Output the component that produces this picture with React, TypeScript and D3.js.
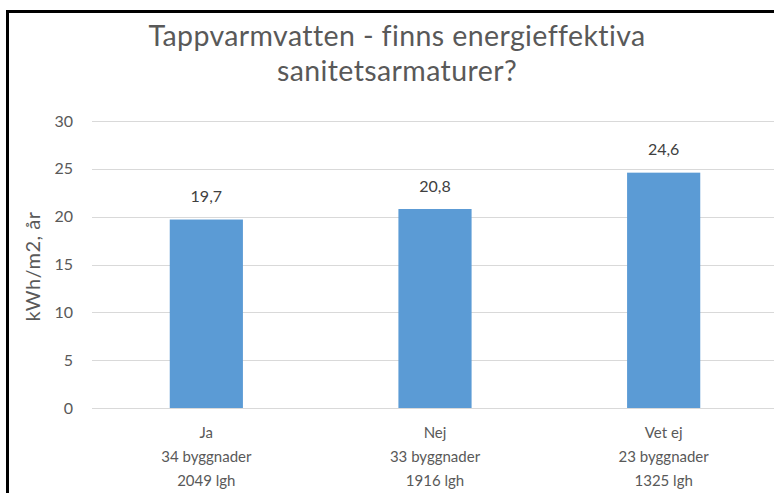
import React from "react";
import * as d3 from "d3";

const categories = ["Ja", "Nej", "Vet ej"];
const subLabels = [
  ["34 byggnader", "2049 lgh"],
  ["33 byggnader", "1916 lgh"],
  ["23 byggnader", "1325 lgh"],
];
const values = [19.7, 20.8, 24.6];
const yTicks = [0, 5, 10, 15, 20, 25, 30];
const titleLines = ["Tappvarmvatten - finns energieffektiva", "sanitetsarmaturer?"];
const yLabel = "kWh/m2, år";

const W = 774;
const H = 493;
const FONT = "Lato, 'Open Sans', sans-serif";

export default function App() {
  const x = d3
    .scaleBand<string>()
    .domain(categories)
    .range([92, 778])
    .paddingInner(0.68)
    .paddingOuter(0.34);
  const y = d3.scaleLinear().domain([0, 30]).range([408, 121]);
  const fmt = (v: number) => v.toFixed(1).replace(".", ",");

  return (
    <svg
      width={W}
      height={H}
      style={{ position: "absolute", left: 0, top: 0, background: "#fff" }}
    >
      <rect x={0} y={0} width={W} height={H} fill="#fff" />
      {/* border */}
      <line x1={7.5} y1={11.5} x2={7.5} y2={H} stroke="#000" strokeWidth={3} />
      <line x1={6} y1={11.5} x2={W} y2={11.5} stroke="#000" strokeWidth={3} />

      {/* title */}
      {titleLines.map((t, i) => (
        <text
          key={i}
          x={397}
          y={46 + i * 35}
          textAnchor="middle"
          fontFamily={FONT}
          fontSize={28.5}
          letterSpacing={0.4}
          fill="#595959"
        >
          {t}
        </text>
      ))}

      {/* gridlines */}
      {yTicks.map((t) => (
        <line
          key={t}
          x1={92}
          x2={W}
          y1={Math.round(y(t)) + 0.5}
          y2={Math.round(y(t)) + 0.5}
          stroke="#d9d9d9"
          strokeWidth={1}
        />
      ))}

      {/* y tick labels */}
      {yTicks.map((t) => (
        <text
          key={"l" + t}
          x={73}
          y={y(t)}
          dy="0.35em"
          textAnchor="end"
          fontFamily={FONT}
          fontSize={16}
          fill="#595959"
        >
          {t}
        </text>
      ))}

      {/* y label */}
      <text
        transform={`translate(33,${(y(0) + y(30)) / 2 + 2}) rotate(-90)`}
        dy="0.35em"
        textAnchor="middle"
        fontFamily={FONT}
        fontSize={20}
        letterSpacing={0.5}
        fill="#595959"
      >
        {yLabel}
      </text>

      {/* bars */}
      {categories.map((c, i) => (
        <rect
          key={c}
          x={x(c)}
          y={y(values[i])}
          width={x.bandwidth()}
          height={y(0) - y(values[i])}
          fill="#5b9bd5"
        />
      ))}

      {/* data labels */}
      {categories.map((c, i) => (
        <text
          key={"d" + c}
          x={(x(c) ?? 0) + x.bandwidth() / 2}
          y={y(values[i]) - 23}
          dy="0.35em"
          textAnchor="middle"
          fontFamily={FONT}
          fontSize={16}
          fill="#404040"
        >
          {fmt(values[i])}
        </text>
      ))}

      {/* category labels */}
      {categories.map((c, i) =>
        [c, ...subLabels[i]].map((line, j) => (
          <text
            key={c + j}
            x={(x(c) ?? 0) + x.bandwidth() / 2}
            y={433 + j * 24}
            dy="0.35em"
            textAnchor="middle"
            fontFamily={FONT}
            fontSize={15}
            fill="#595959"
          >
            {line}
          </text>
        ))
      )}
    </svg>
  );
}
